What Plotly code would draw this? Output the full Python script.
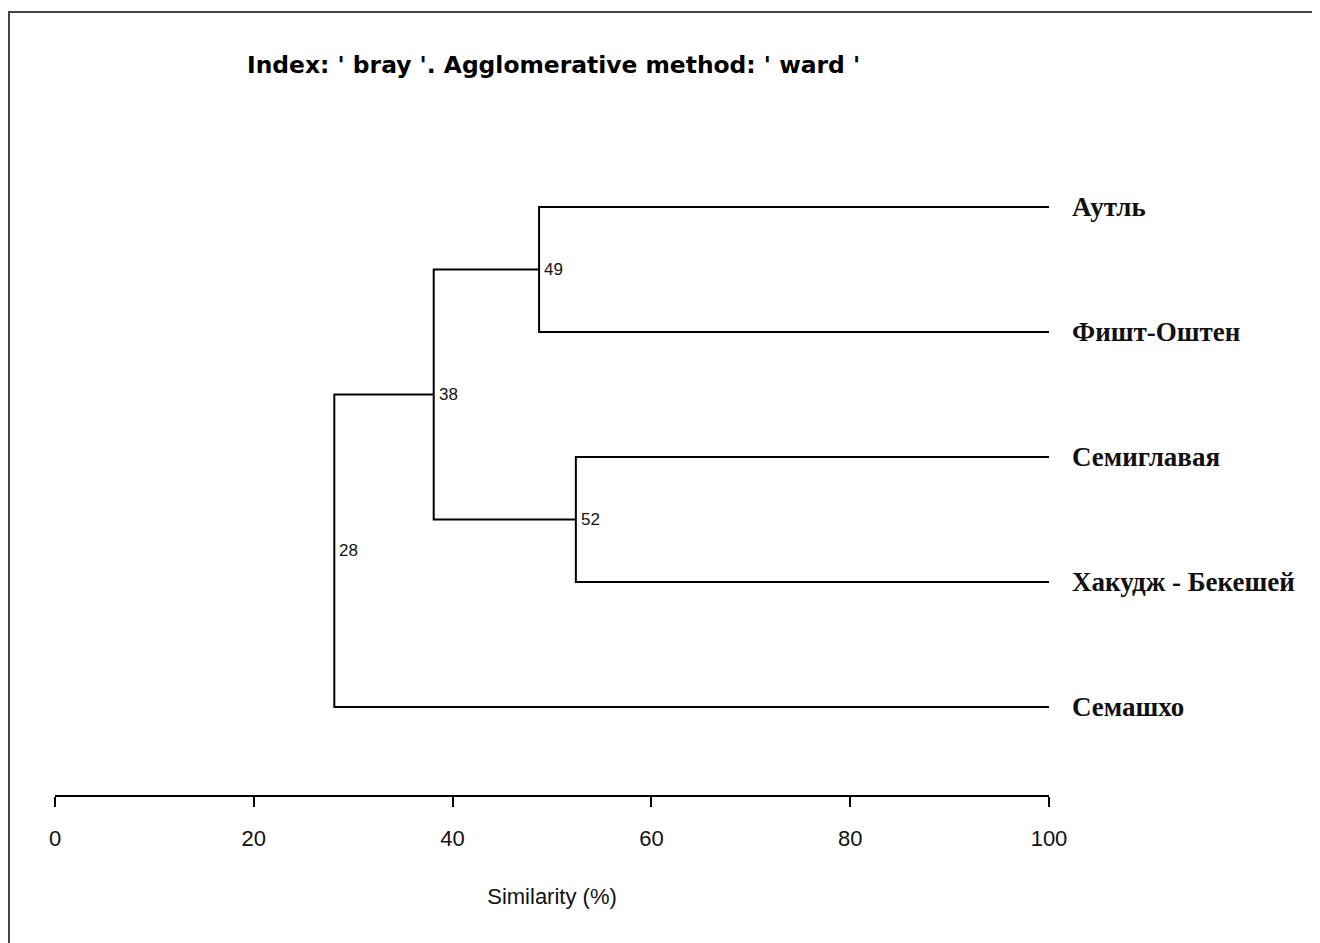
import plotly.graph_objects as go

# --- Data ---
LEAVES = ["Аутль", "Фишт-Оштен", "Семиглавая", "Хакудж - Бекешей", "Семашхо"]
# merges: (similarity %, left child, right child); children < 5 are leaves, others are earlier merges
MERGE_HEIGHTS = [48.7, 52.4, 38.1, 28.1]
MERGE_LEFT = [0, 2, 5, 7]
MERGE_RIGHT = [1, 3, 6, 4]
MERGE_LABELS = ["49", "52", "38", "28"]
X_TICKS = [0, 20, 40, 60, 80, 100]
LEAF_X = 100

TITLE = "Index: ' bray '. Agglomerative method: ' ward '"
X_TITLE = "Similarity (%)"

# --- Layout in pixels (page body adds an 8px offset) ---
OFF = 8
W, H = 1320, 943
L, T = 55 - OFF, 120 - OFF
R = W - (1049 - OFF)
B = H - (795 - OFF)
plot_w = W - L - R
plot_h = H - T - B

# node positions: (x, y)
nodes = {i: (LEAF_X, i) for i in range(len(LEAVES))}
fig = go.Figure()

xs, ys = [], []
for k, (h, a, b) in enumerate(zip(MERGE_HEIGHTS, MERGE_LEFT, MERGE_RIGHT)):
    xa, ya = nodes[a]
    xb, yb = nodes[b]
    xs += [xa, h, h, xb, None]
    ys += [ya, ya, yb, yb, None]
    nodes[len(LEAVES) + k] = (h, (ya + yb) / 2)

fig.add_trace(go.Scatter(x=xs, y=ys, mode="lines",
                         line=dict(color="black", width=2),
                         hoverinfo="skip", showlegend=False))

# node labels
for k, lab in enumerate(MERGE_LABELS):
    x, y = nodes[len(LEAVES) + k]
    fig.add_annotation(x=x, y=y, text=lab, showarrow=False,
                       xanchor="left", yanchor="middle", xshift=3,
                       font=dict(family="Liberation Sans, Arial", size=17, color="#111"))

# leaf labels
for i, name in enumerate(LEAVES):
    fig.add_annotation(x=LEAF_X, y=i, text=f"<b>{name}</b>", showarrow=False,
                       xanchor="left", yanchor="middle", xshift=21,
                       font=dict(family="Liberation Serif, Times New Roman", size=27, color="#111"))

# frame around picture
fig.add_shape(type="rect", xref="paper", yref="paper",
              x0=(9 - OFF - L) / plot_w, x1=(W + 20 - L) / plot_w,
              y0=-(H + 20 - T - plot_h) / plot_h, y1=(T + plot_h - (12 - OFF)) / plot_h,
              line=dict(color="#444", width=2), layer="below")

fig.update_layout(
    width=W, height=H,
    margin=dict(l=L, r=R, t=T, b=B),
    paper_bgcolor="white", plot_bgcolor="white",
    title=dict(text=f"<b>{TITLE}</b>", x=(247 - OFF) / W, xanchor="left",
               y=1 - (65 - OFF) / H, yanchor="middle",
               font=dict(family="DejaVu Sans, Verdana", size=23.4, color="black")),
    showlegend=False,
)
fig.update_xaxes(range=[0, 100], tickvals=X_TICKS, ticks="outside", ticklen=10,
                 tickwidth=2, tickcolor="black", showline=True, linecolor="black",
                 linewidth=2, showgrid=False, zeroline=False, ticklabelstandoff=13,
                 tickfont=dict(family="Liberation Sans, Arial", size=22, color="#111"),
                 title=dict(text=X_TITLE, standoff=38,
                            font=dict(family="Liberation Sans, Arial", size=22, color="#111")))
fig.update_yaxes(range=[(795 - 207) / 125, (120 - 207) / 125], visible=False,
                 showgrid=False, zeroline=False)

fig.write_html("out.html")
